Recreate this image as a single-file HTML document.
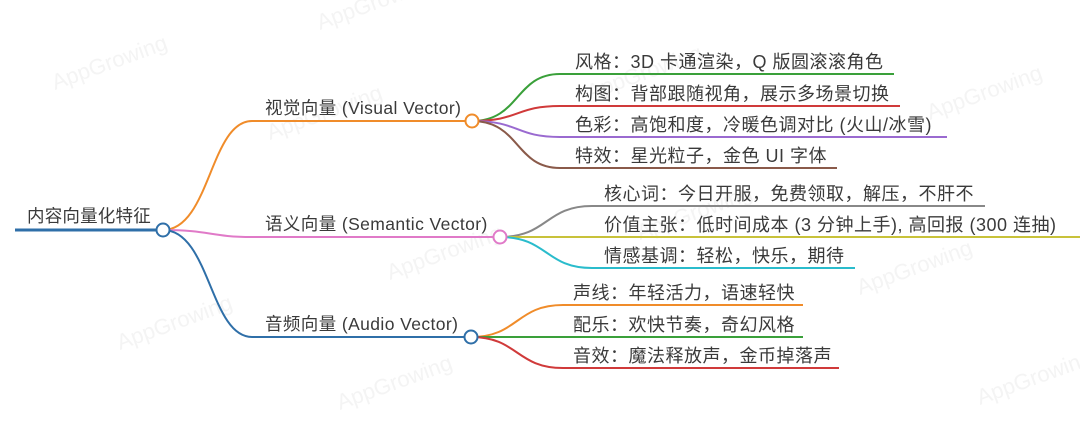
<!DOCTYPE html>
<html><head><meta charset="utf-8"><style>
html,body{margin:0;padding:0;background:#fff;}
svg text{font-family:"Liberation Sans","Noto Sans CJK SC",sans-serif;font-size:17px;fill:#3a3a3a;}
svg text.p{font-size:17.5px;letter-spacing:0.4px;}
svg text.c{font-size:18px;letter-spacing:0.5px;}
svg text.r{font-size:17.5px;letter-spacing:0.2px;}
svg text.wm{font-size:22px;fill:#f4f4f4;}
</style></head><body>
<svg width="1080" height="424" viewBox="0 0 1080 424" xmlns="http://www.w3.org/2000/svg">
<g>
<text class="wm" x="320" y="30" transform="rotate(-20 320 30)">AppGrowing</text>
<text class="wm" x="55" y="90" transform="rotate(-20 55 90)">AppGrowing</text>
<text class="wm" x="270" y="140" transform="rotate(-20 270 140)">AppGrowing</text>
<text class="wm" x="590" y="100" transform="rotate(-20 590 100)">AppGrowing</text>
<text class="wm" x="930" y="120" transform="rotate(-20 930 120)">AppGrowing</text>
<text class="wm" x="390" y="280" transform="rotate(-20 390 280)">AppGrowing</text>
<text class="wm" x="640" y="240" transform="rotate(-20 640 240)">AppGrowing</text>
<text class="wm" x="860" y="295" transform="rotate(-20 860 295)">AppGrowing</text>
<text class="wm" x="120" y="350" transform="rotate(-20 120 350)">AppGrowing</text>
<text class="wm" x="340" y="410" transform="rotate(-20 340 410)">AppGrowing</text>
<text class="wm" x="980" y="405" transform="rotate(-20 980 405)">AppGrowing</text>
</g>
<g fill="none" stroke-width="2">
<path d="M15 230 H157" stroke="#2f6fa8" stroke-width="3"/>
<path d="M163 230 C210 230 210 121 252 121 H466" stroke="#f08c2a"/>
<path d="M163 230 C210 230 210 237 252 237 H494" stroke="#e07ac8"/>
<path d="M163 230 C210 230 210 337 252 337 H465" stroke="#2f6fa8"/>
<path d="M472 121 C520 121 515 74 560 74 H894" stroke="#3aa03a"/>
<path d="M472 121 C520 121 515 106 560 106 H900" stroke="#d03a3a"/>
<path d="M472 121 C520 121 515 137 560 137 H947" stroke="#9a6ad0"/>
<path d="M472 121 C520 121 515 168 560 168 H837" stroke="#8a5a4a"/>
<path d="M500 237 C548 237 545 206 592 206 H985" stroke="#888"/>
<path d="M500 237 H1080" stroke="#c8c23a"/>
<path d="M500 237 C548 237 545 268 592 268 H855" stroke="#2abccc"/>
<path d="M471 337 C518 337 516 305 563 305 H803" stroke="#f08c2a"/>
<path d="M471 337 H803" stroke="#3aa03a"/>
<path d="M471 337 C518 337 516 368 563 368 H839" stroke="#d03a3a"/>
</g>
<g fill="#fff" stroke-width="2">
<circle cx="163" cy="230" r="6.5" stroke="#2f6fa8"/>
<circle cx="472" cy="121" r="6.5" stroke="#f08c2a"/>
<circle cx="500" cy="237" r="6.5" stroke="#e07ac8"/>
<circle cx="471" cy="337" r="6.5" stroke="#2f6fa8"/>
</g>
<text class="r" x="27" y="222">内容向量化特征</text>
<text class="p" x="265" y="114">视觉向量 (Visual Vector)</text>
<text class="p" x="265" y="230">语义向量 (Semantic Vector)</text>
<text class="p" x="265" y="330">音频向量 (Audio Vector)</text>
<text class="c" x="575" y="68">风格：3D 卡通渲染，Q 版圆滚滚角色</text>
<text class="c" x="575" y="100">构图：背部跟随视角，展示多场景切换</text>
<text class="c" x="575" y="131">色彩：高饱和度，冷暖色调对比 (火山/冰雪)</text>
<text class="c" x="575" y="162">特效：星光粒子，金色 UI 字体</text>
<text class="c" x="604" y="200">核心词：今日开服，免费领取，解压，不肝不</text>
<text class="c" x="604" y="231">价值主张：低时间成本 (3 分钟上手), 高回报 (300 连抽)</text>
<text class="c" x="604" y="262">情感基调：轻松，快乐，期待</text>
<text class="c" x="573" y="299">声线：年轻活力，语速轻快</text>
<text class="c" x="573" y="331">配乐：欢快节奏，奇幻风格</text>
<text class="c" x="573" y="362">音效：魔法释放声，金币掉落声</text>
</svg>
</body></html>
